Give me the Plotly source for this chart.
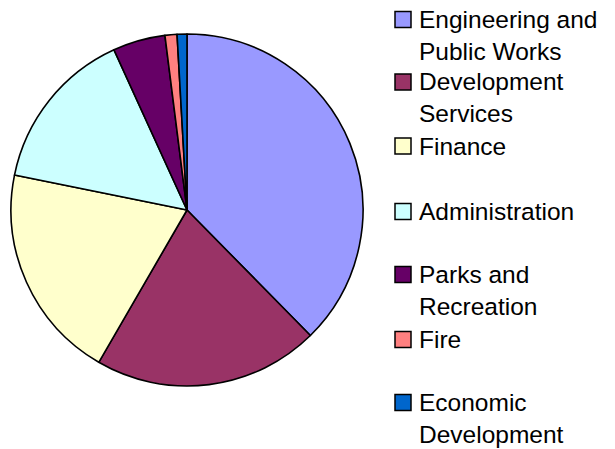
import plotly.graph_objects as go

# Share of budget by department (percent)
departments = [
    "Engineering and<br>Public Works",
    "Development<br>Services",
    "Finance",
    "Administration",
    "Parks and<br>Recreation",
    "Fire",
    "Economic<br>Development",
]
shares = [37.6, 20.7, 19.8, 15.0, 4.8, 1.1, 0.9]
colors = ["#9999FF", "#993366", "#FFFFCC", "#CCFFFF", "#660066", "#FF8080", "#0066CC"]

W, H = 615, 449
FONT = "Liberation Sans, Arial, sans-serif"
LEG_SIZE = 24.5

# Legend layout (pixel positions of each entry's key, top-down)
key_centers = [19.5, 82, 146, 211.5, 274.5, 339.5, 402.5]
key_x0, key_size, text_x = 395, 16, 418


def px_x(x):
    return x / W


def px_y(y):
    return 1 - y / H


fig = go.Figure(
    go.Pie(
        labels=[d.replace("<br>", " ") for d in departments],
        values=shares,
        sort=False,
        direction="clockwise",
        rotation=0,
        textinfo="none",
        hoverinfo="label+percent",
        showlegend=False,
        marker=dict(colors=colors, line=dict(color="black", width=1.6)),
        domain=dict(x=[11 / W, 363 / W], y=[1 - 386 / H, 1 - 34 / H]),
    )
)

# Legend drawn as keyed squares with wrapped labels
shapes, annotations = [], []
for name, color, yc in zip(departments, colors, key_centers):
    shapes.append(
        dict(
            type="rect",
            xref="paper",
            yref="paper",
            x0=px_x(key_x0),
            x1=px_x(key_x0 + key_size),
            y0=px_y(yc - key_size / 2),
            y1=px_y(yc + key_size / 2),
            fillcolor=color,
            line=dict(color="black", width=1.5),
        )
    )
    n_lines = name.count("<br>") + 1
    block_center = yc + (n_lines - 1) * 1.3 * LEG_SIZE / 2
    annotations.append(
        dict(
            text=name,
            xref="paper",
            yref="paper",
            x=px_x(text_x),
            y=px_y(block_center),
            xanchor="left",
            yanchor="middle",
            align="left",
            showarrow=False,
            font=dict(size=LEG_SIZE, family=FONT, color="black"),
            borderpad=0,
        )
    )

fig.update_layout(
    width=W,
    height=H,
    margin=dict(l=0, r=0, t=0, b=0),
    paper_bgcolor="white",
    plot_bgcolor="white",
    font=dict(family=FONT, color="black"),
    shapes=shapes,
    annotations=annotations,
    showlegend=False,
)

fig.write_html("out.html")
